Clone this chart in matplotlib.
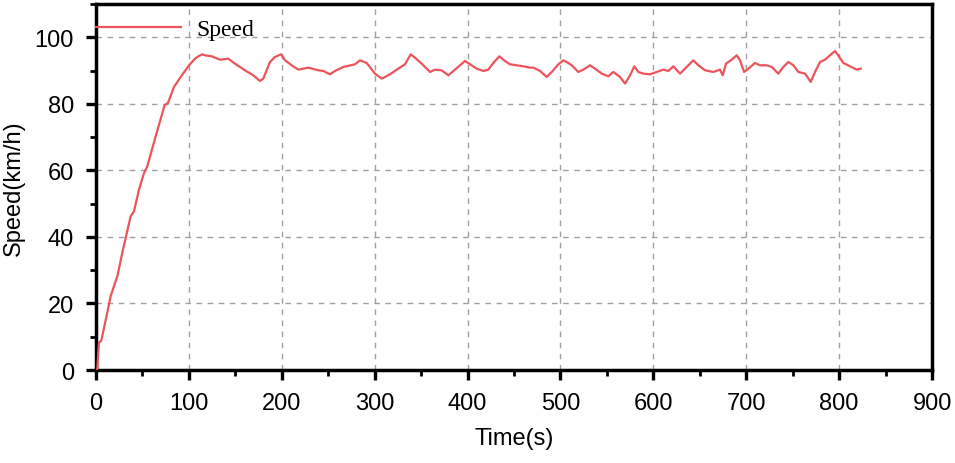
import matplotlib
matplotlib.use("Agg")
import matplotlib.pyplot as plt
from matplotlib.ticker import MultipleLocator

time_s = [0, 1.4, 3.2, 5.7, 12.2, 15.8, 23.0, 28.3, 37.3, 40.9, 46.3, 51.7, 55.2, 64.2,
          71.4, 73.9, 77.5, 84.0, 91.2, 100.1, 106.6, 109.0, 114.4, 117.3, 124.6, 133.5,
          142.5, 149.6, 160.4, 169.3, 176.5, 180.1, 187.3, 192.7, 199.2, 203.5, 210.7,
          217.8, 228.6, 239.3, 244.7, 251.9, 257.3, 266.2, 278.8, 284.2, 291.4, 300.3,
          307.6, 316.5, 325.4, 332.6, 338.8, 343.4, 350.6, 359.6, 364.9, 372.1, 379.3,
          386.5, 391.9, 397.2, 402.6, 409.8, 417.0, 422.3, 427.7, 434.2, 440.3, 445.7,
          452.9, 460.0, 467.2, 470.8, 478.0, 485.2, 492.3, 497.7, 503.1, 508.5, 512.1,
          519.2, 524.6, 531.8, 537.2, 544.4, 551.5, 556.9, 564.1, 569.5, 574.9, 579.5,
          583.8, 589.2, 596.4, 603.6, 610.7, 616.1, 621.5, 628.7, 634.1, 641.3, 643.0,
          648.4, 655.6, 664.5, 671.7, 674.6, 678.2, 684.3, 689.7, 693.3, 697.6, 702.3,
          709.4, 714.8, 722.0, 727.4, 734.5, 739.9, 745.3, 750.7, 756.0, 763.3, 769.4,
          774.0, 779.4, 784.8, 790.2, 795.5, 800.2, 804.5, 811.7, 818.9, 823.2]
speed_kmh = [0, 0.3, 8.3, 8.8, 17.3, 22.2, 28.2, 35.2, 46.2, 47.7, 54.2, 59.2, 61.2, 70.2,
             77.1, 79.6, 80.3, 85.1, 88.1, 91.6, 93.6, 94.1, 94.9, 94.6, 94.3, 93.3,
             93.6, 92.1, 90.1, 88.6, 86.9, 87.6, 92.6, 94.1, 94.9, 93.1, 91.6,
             90.3, 90.9, 90.1, 89.9, 88.9, 89.9, 91.1, 91.9, 93.1, 92.3, 89.1,
             87.6, 88.9, 90.6, 91.9, 94.9, 93.9, 92.1, 89.6, 90.3, 90.1, 88.6,
             90.3, 91.6, 92.9, 91.9, 90.6, 89.9, 90.3, 92.3, 94.3, 92.9, 91.9,
             91.6, 91.3, 90.9, 90.9, 89.9, 88.1, 90.1, 91.9, 93.1, 92.3, 91.6,
             89.6, 90.3, 91.6, 90.6, 89.1, 88.3, 89.6, 88.1, 86.1, 88.6, 91.3,
             89.6, 89.1, 88.9, 89.6, 90.3, 89.9, 91.3, 89.1, 90.6, 92.6, 93.1,
             91.6, 90.1, 89.6, 90.3, 88.6, 92.1, 93.3, 94.6, 93.1, 89.6, 90.6,
             92.3, 91.6, 91.6, 91.1, 89.1, 91.1, 92.6, 91.6, 89.6, 89.1, 86.6,
             89.6, 92.6, 93.3, 94.6, 95.9, 94.1, 92.3, 91.3, 90.3, 90.6]

x_ticks = [0, 100, 200, 300, 400, 500, 600, 700, 800, 900]
y_ticks = [0, 20, 40, 60, 80, 100]

sans = ["Liberation Sans", "DejaVu Sans"]
serif = ["Liberation Serif", "DejaVu Serif"]

fig = plt.figure(figsize=(9.55, 4.64), dpi=100)
ax = fig.add_axes([0.1005, 0.2004, 0.8755, 0.7886])

ax.plot(time_s, speed_kmh, color="#EC545C", lw=1.6, label="Speed", zorder=3)

ax.set_xlim(0, 900)
ax.set_ylim(0, 110)
ax.set_xticks(x_ticks)
ax.set_yticks(y_ticks)
ax.xaxis.set_minor_locator(MultipleLocator(50))
ax.yaxis.set_minor_locator(MultipleLocator(10))

ax.grid(True, which="major", color="#a0a0a0", linestyle=(0, (4, 4)), lw=1.0, zorder=0)

for s in ax.spines.values():
    s.set_linewidth(2.5)
    s.set_color("black")

ax.tick_params(which="major", direction="out", length=7, width=2.4, labelsize=17, pad=9)
ax.tick_params(which="minor", direction="out", length=4, width=2.0)
ax.tick_params(axis="y", which="both", right=False)
for lab in ax.get_xticklabels() + ax.get_yticklabels():
    lab.set_family(sans)

ax.set_xlabel("Time(s)", fontsize=17, family=sans, labelpad=9)
ax.set_ylabel("Speed(km/h)", fontsize=17, family=sans, labelpad=7)

ax.legend(loc="upper left", frameon=False, prop={"family": serif, "size": 17},
          handlelength=3.6, handletextpad=0.64, borderaxespad=0.0, borderpad=0.35,
          bbox_to_anchor=(-0.01, 0.982))

fig.savefig("out.png", dpi=100)
